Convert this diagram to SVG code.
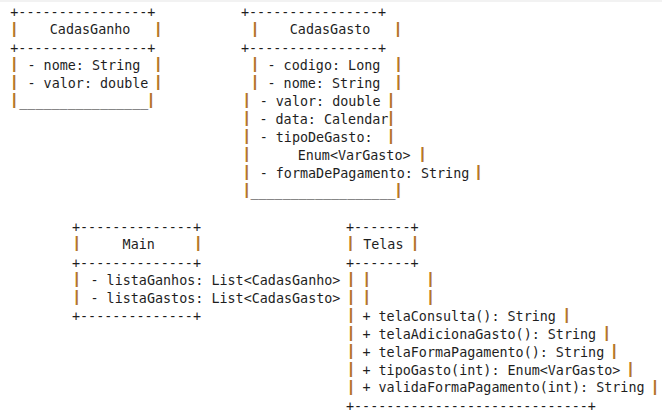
<svg xmlns="http://www.w3.org/2000/svg" width="662" height="415" viewBox="0 0 662 415">
<style>
.t{font-family:"DejaVu Sans Mono","Liberation Mono",monospace;font-size:13.4px;fill:#1e1e1e;white-space:pre}
.b{font-family:"Liberation Sans",Arial,sans-serif;font-size:16px;font-weight:bold;fill:#b5762a;text-anchor:middle}
</style>
<rect x="0" y="0" width="662" height="415" fill="#ffffff"/>
<rect x="0" y="0" width="662" height="2" fill="#f2f2f2"/>
<g id="CadasGanho">
<text class="t" x="10.3" y="17">+----------------+</text>
<text class="b" x="14.3" y="33.6">|</text><text class="t" x="49.8" y="34.4">CadasGanho</text><text class="b" x="158.3" y="33.6">|</text>
<text class="t" x="10.3" y="52.8">+----------------+</text>
<text class="b" x="14.3" y="69.4">|</text><text class="t" x="27.5" y="70.2">- nome: String</text><text class="b" x="158.3" y="69.4">|</text>
<text class="b" x="14.3" y="87.3">|</text><text class="t" x="27.5" y="88.1">- valor: double</text><text class="b" x="158.3" y="87.3">|</text>
<text class="b" x="14.3" y="105.2">|</text><text class="t" x="19.3" y="106">________________</text><text class="b" x="150.9" y="105.2">|</text>
</g>
<g id="CadasGasto">
<text class="t" x="241" y="17">+----------------+</text>
<text class="b" x="255" y="33.6">|</text><text class="t" x="289.8" y="34.4">CadasGasto</text><text class="b" x="398" y="33.6">|</text>
<text class="t" x="241" y="52.8">+----------------+</text>
<text class="b" x="255" y="69.4">|</text><text class="t" x="267.5" y="70.2">- codigo: Long</text><text class="b" x="398.5" y="69.4">|</text>
<text class="b" x="255" y="87.3">|</text><text class="t" x="267.5" y="88.1">- nome: String</text><text class="b" x="398.5" y="87.3">|</text>
<text class="b" x="246.7" y="105.2">|</text><text class="t" x="259.7" y="106">- valor: double</text><text class="b" x="390.9" y="105.2">|</text>
<text class="b" x="246.7" y="123.1">|</text><text class="t" x="259.4" y="123.9">- data: Calendar</text><text class="b" x="390.9" y="123.1">|</text>
<text class="b" x="246.7" y="141">|</text><text class="t" x="259.7" y="141.8">- tipoDeGasto:</text><text class="b" x="390.9" y="141">|</text>
<text class="b" x="246.7" y="158.9">|</text><text class="t" x="297.7" y="159.7">Enum&lt;VarGasto&gt;</text><text class="b" x="422.5" y="158.9">|</text>
<text class="b" x="246.7" y="176.8">|</text><text class="t" x="259.7" y="177.6">- formaDePagamento: String</text><text class="b" x="478.5" y="176.8">|</text>
<text class="b" x="246.7" y="194.7">|</text><text class="t" x="250.4" y="195.5">__________________</text><text class="b" x="398.5" y="194.7">|</text>
</g>
<g id="Main">
<text class="t" x="72" y="231.8">+--------------+</text>
<text class="b" x="76.7" y="248.4">|</text><text class="t" x="122.6" y="249.2">Main</text><text class="b" x="198.3" y="248.4">|</text>
<text class="t" x="72" y="267.6">+--------------+</text>
<text class="b" x="76.7" y="284.2">|</text><text class="t" x="90.5" y="285">- listaGanhos: List&lt;CadasGanho&gt;</text>
<text class="b" x="76.7" y="302.1">|</text><text class="t" x="90.5" y="302.9">- listaGastos: List&lt;CadasGasto&gt;</text>
<text class="t" x="72" y="321.3">+--------------+</text>
</g>
<g id="Telas">
<text class="t" x="346" y="231.8">+-------+</text>
<text class="b" x="350.5" y="248.4">|</text><text class="t" x="363.2" y="249.2">Telas</text><text class="b" x="415" y="248.4">|</text>
<text class="t" x="346" y="267.6">+-------+</text>
<text class="b" x="351" y="284.2">|</text><text class="b" x="366.7" y="284.2">|</text><text class="b" x="430.5" y="284.2">|</text>
<text class="b" x="351" y="302.1">|</text><text class="b" x="366.7" y="302.1">|</text><text class="b" x="430.5" y="302.1">|</text>
<text class="b" x="351" y="320">|</text><text class="t" x="362.4" y="320.8">+ telaConsulta(): String</text><text class="b" x="566.7" y="320">|</text>
<text class="b" x="351" y="337.9">|</text><text class="t" x="362.4" y="338.7">+ telaAdicionaGasto(): String</text><text class="b" x="606.7" y="337.9">|</text>
<text class="b" x="351" y="355.8">|</text><text class="t" x="362.4" y="356.6">+ telaFormaPagamento(): String</text><text class="b" x="614.3" y="355.8">|</text>
<text class="b" x="351" y="373.7">|</text><text class="t" x="362.4" y="374.5">+ tipoGasto(int): Enum&lt;VarGasto&gt;</text><text class="b" x="630.5" y="373.7">|</text>
<text class="b" x="351" y="391.6">|</text><text class="t" x="362.4" y="392.4">+ validaFormaPagamento(int): String</text><text class="b" x="655" y="391.6">|</text>
<text class="t" x="346" y="410.8">+-----------------------------+</text>
</g>
</svg>
